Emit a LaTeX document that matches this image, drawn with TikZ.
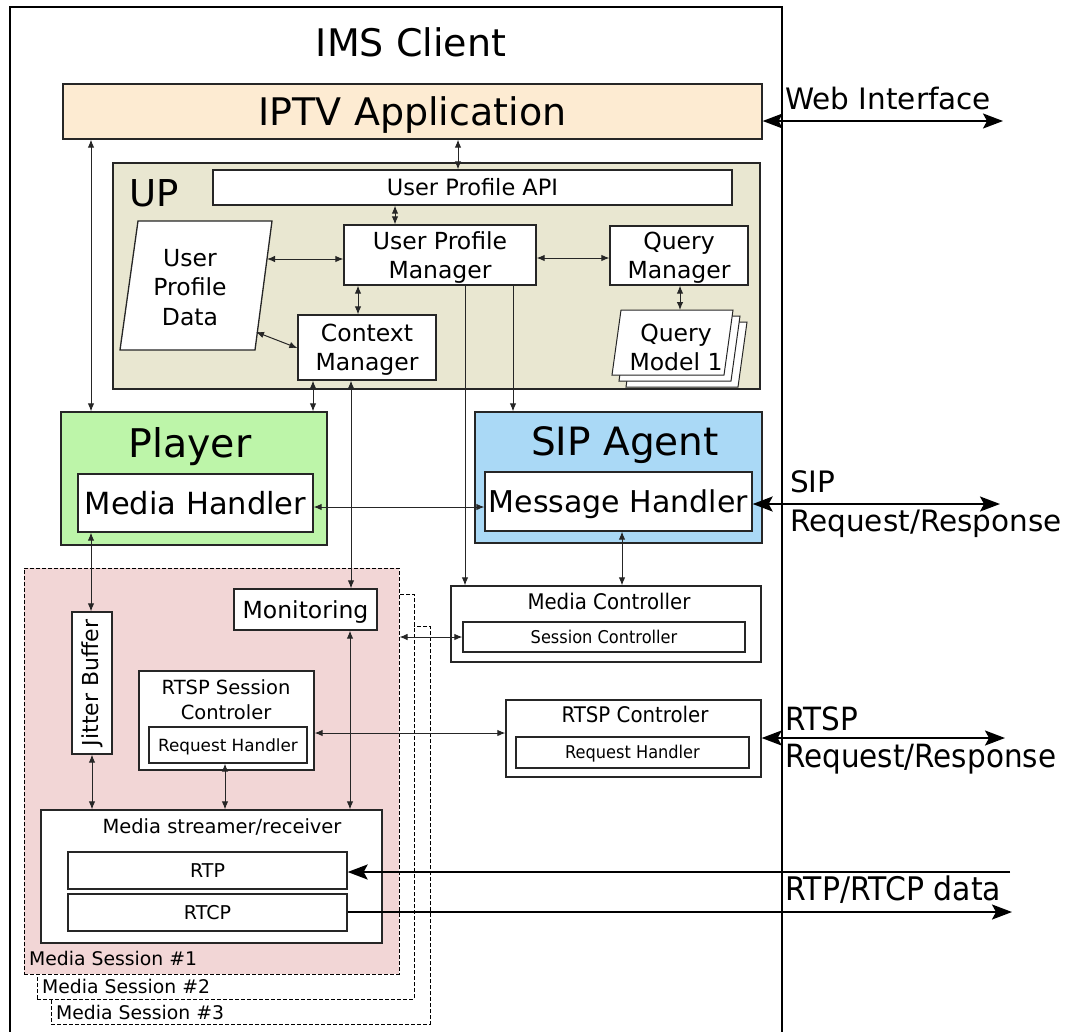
\documentclass[tikz,border=0pt]{standalone}
\usepackage{fontspec}
\setmainfont{DejaVu Sans}
\newfontfamily\condfont[FakeStretch=0.92]{DejaVu Sans}
\usetikzlibrary{arrows.meta}
\newcommand\fsz[2]{\fontsize{#1pt}{#2pt}\selectfont}

\definecolor{appfill}{HTML}{FDEBD2}
\definecolor{upfill}{HTML}{E9E7D1}
\definecolor{playerfill}{HTML}{BDF5A9}
\definecolor{sipfill}{HTML}{AAD9F6}
\definecolor{sessfill}{HTML}{F2D6D6}
\definecolor{edge}{HTML}{262626}
\definecolor{wire}{HTML}{262626}

\begin{document}
\begin{tikzpicture}[x=1pt, y=-1pt,
  box/.style={draw=edge, line width=1.3pt, fill=white, inner sep=0pt, rectangle, align=center},
  sess/.style={draw=black, line width=1pt, dash pattern=on 4pt off 2pt, inner sep=0pt, rectangle},
  sheet/.style={draw=edge, line width=1pt, fill=white},
  lbl/.style={inner sep=0pt},
  ctr/.style={text height=#1, text depth=0pt},
  conn/.style={draw=wire, line width=1pt},
  bi/.style={conn, {Latex[length=8pt,width=6.5pt]}-{Latex[length=8pt,width=6.5pt]}},
  uni/.style={conn, -{Latex[length=8pt,width=6.5pt]}},
  bigbi/.style={draw=black, line width=2pt, {Stealth[length=20pt,width=15pt,inset=4pt]}-{Stealth[length=20pt,width=15pt,inset=4pt]}},
  bigone/.style={draw=black, line width=2pt, -{Stealth[length=20pt,width=15pt,inset=4pt]}},
  small/.style={font=\fsz{23.5}{29}}
]
\useasboundingbox (0,0) rectangle (1075,1031);

% client frame (open at the bottom)
\node[draw=black, line width=1.5pt, inner sep=0pt, minimum width=772, minimum height=1045, anchor=north west] (ims) at (9,6) {};
\node[lbl, anchor=base, font=\fsz{38}{46}] (imslabel) at (411,56) {IMS Client};

% application layer
\node[box, fill=appfill, minimum width=699, minimum height=55, font=\fsz{38}{46}, ctr=27.7pt] (iptv) at (412.5,111.5) {IPTV Application};
\node[lbl, anchor=base west, font=\fsz{29.5}{36}] (weblabel) at (785,109) {Web Interface};

% user profile block
\node[box, fill=upfill, minimum width=647, minimum height=226] (up) at (436.5,276) {};
\node[lbl, anchor=base west, font=\fsz{37}{44}] (uplabel) at (129,206) {UP};
\node[box, minimum width=519, minimum height=35, font=\fsz{22.5}{28}, ctr=16.4pt] (api) at (472.5,187.5) {User Profile API};
\node[box, small, minimum width=192, minimum height=60, ctr=46.1pt] (upm) at (440,255) {User Profile\\Manager};
\node[box, small, minimum width=138, minimum height=59, ctr=46.1pt] (qm) at (679,255.5) {Query\\Manager};
\node[box, small, minimum width=138, minimum height=65, ctr=46.1pt] (cm) at (367,347.5) {Context\\Manager};

% profile data store
\draw[sheet, line width=1.3pt] (120,350) -- (138,221) -- (272,221) -- (255,350) -- cycle;
\node[lbl, align=center, font=\fsz{23.5}{29.5}, ctr=76.1pt] (upd) at (190,287) {User\\Profile\\Data};
\coordinate (updA) at (267,259);
\coordinate (updB) at (256,332);

% stacked query models
\draw[sheet] (626,387) -- (635,322) -- (747,322) -- (738,387) -- cycle;
\draw[sheet] (619,381) -- (628,316) -- (740,316) -- (731,381) -- cycle;
\draw[sheet] (612,375) -- (621,310) -- (733,310) -- (724,375) -- cycle;
\node[lbl, small, align=center, ctr=46.1pt] (qmod) at (676,347) {Query\\Model 1};
\coordinate (qmodtop) at (680,310);

% player and SIP agent
\node[box, fill=playerfill, minimum width=266, minimum height=133] (player) at (194,478.5) {};
\node[lbl, anchor=base, font=\fsz{39.5}{48}] (playerlabel) at (190,457) {Player};
\node[box, minimum width=235, minimum height=58, font=\fsz{30.5}{37}, ctr=22.2pt] (mh) at (195.5,503) {Media Handler};
\node[box, fill=sipfill, minimum width=287, minimum height=131] (sip) at (618.5,477.5) {};
\node[lbl, anchor=base, font=\fsz{39}{48}] (siplabel) at (625,455) {SIP Agent};
\node[box, minimum width=267, minimum height=59, font=\fsz{30}{37}, ctr=21.9pt] (msg) at (618.5,501.5) {Message Handler};
\node[lbl, anchor=base west, font=\fsz{29.5}{36}] (sipA) at (790,492) {SIP};
\node[lbl, anchor=base west, font=\fsz{29.5}{36}] (sipB) at (790,531) {Request/Response};

% media sessions (two more stacked behind the first)
\node[sess, fill=white, minimum width=379, minimum height=398] (ms3) at (240.5,825) {};
\node[sess, fill=white, minimum width=377, minimum height=405] (ms2) at (225.5,796.5) {};
\node[sess, fill=sessfill, minimum width=375, minimum height=406] (ms1) at (211.5,771) {};
\node[lbl, anchor=base west, font=\fsz{18.8}{23}] (ms1label) at (29,965) {Media Session \#1};
\node[lbl, anchor=base west, font=\fsz{18.8}{23}] (ms2label) at (42,993) {Media Session \#2};
\node[lbl, anchor=base west, font=\fsz{18.8}{23}] (ms3label) at (56,1019) {Media Session \#3};

\node[box, minimum width=143, minimum height=41, font=\fsz{23.5}{29}, ctr=17.1pt] (mon) at (305.5,609.5) {Monitoring};
\node[box, minimum width=40, minimum height=142] (jit) at (92,683) {};
\node[lbl, rotate=90, font=\fsz{22}{27}, ctr=16pt] (jitlabel) at (90.5,683) {Jitter Buffer};

\node[box, minimum width=175, minimum height=99] (rsc) at (226.5,720.5) {};
\node[lbl, anchor=base, font=\fsz{19.5}{24}] (rscA) at (226,694) {RTSP Session};
\node[lbl, anchor=base, font=\fsz{19.5}{24}] (rscB) at (226,719) {Controler};
\node[box, minimum width=158, minimum height=36, font=\fsz{16.8}{20}, ctr=12.2pt] (rhl) at (228,745) {Request Handler};

\node[box, minimum width=341, minimum height=133] (msr) at (211.5,876.5) {};
\node[lbl, anchor=base, font=\fsz{19.5}{24}] (msrlabel) at (222,833) {Media streamer/receiver};
\node[box, minimum width=279, minimum height=37, font=\fsz{19}{23}, ctr=13.9pt] (rtp) at (207.5,870.5) {RTP};
\node[box, minimum width=279, minimum height=37, font=\fsz{19}{23}, ctr=13.9pt] (rtcp) at (207.5,912.5) {RTCP};

% controllers
\node[box, minimum width=310, minimum height=76] (mc) at (606,624) {};
\node[lbl, anchor=base, font=\condfont\fsz{21.5}{25}] (mclabel) at (609,609) {Media Controller};
\node[box, minimum width=282, minimum height=30, font=\condfont\fsz{17.6}{20}, ctr=12.8pt] (sc) at (604,637) {Session Controller};

\node[box, minimum width=255, minimum height=77] (rtspc) at (633.5,738.5) {};
\node[lbl, anchor=base, font=\condfont\fsz{21.5}{25}] (rtspclabel) at (635,722) {RTSP Controler};
\node[box, minimum width=233, minimum height=31, font=\condfont\fsz{17.6}{20}, ctr=12.8pt] (rhr) at (632.5,752.5) {Request Handler};
\node[lbl, anchor=base west, font=\condfont\fsz{32}{38}] (rtspA) at (785,730) {RTSP};
\node[lbl, anchor=base west, font=\condfont\fsz{32}{38}] (rtspB) at (785,767) {Request/Response};
\node[lbl, anchor=base west, font=\condfont\fsz{32.5}{38}] (rtplabel) at (785,900) {RTP/RTCP data};

% internal connectors
\draw[bi] (iptv.south -| 91,0) -- (player.north -| 91,0);
\draw[bi] (iptv.south -| 458,0) -- (api.north -| 458,0);
\draw[bi] (api.south -| 395,0) -- (upm.north -| 395,0);
\draw[bi] (updA) -- (upm.west |- 0,259);
\draw[bi] (upm.east |- 0,258) -- (qm.west |- 0,258);
\draw[bi] (qm.south -| 680,0) -- (qmodtop);
\draw[bi] (upm.south -| 358,0) -- (cm.north -| 358,0);
\draw[bi] (updB) -- (cm.west |- 0,348);
\draw[bi] (cm.south -| 313,0) -- (player.north -| 313,0);
\draw[bi] (mon.north -| 351,0) -- (cm.south -| 351,0);
\draw[uni] (upm.south -| 465,0) -- (mc.north -| 465,0);
\draw[uni] (upm.south -| 513,0) -- (sip.north -| 513,0);
\draw[bi] (mh.east |- 0,507) -- (msg.west |- 0,507);
\draw[bi] (mh.south -| 91,0) -- (jit.north -| 91,0);
\draw[bi] (msg.south -| 622,0) -- (mc.north -| 622,0);
\draw[bi] (ms1.east |- 0,637) -- (sc.west |- 0,637);
\draw[bi] (mon.south -| 350,0) -- (msr.north -| 350,0);
\draw[bi] (jit.south -| 92,0) -- (msr.north -| 92,0);
\draw[bi] (rhl.south -| 225,0) -- (msr.north -| 225,0);
\draw[bi] (rsc.east |- 0,733) -- (rtspc.west |- 0,733);

% external interfaces
\coordinate (webR) at (1003,121);
\coordinate (sipR) at (1000,504);
\coordinate (rtspR) at (1005,738);
\coordinate (rtpIn) at (1010,872);
\coordinate (rtcpOut) at (1012,912);
\draw[bigbi] (iptv.east |- 0,121) -- (webR);
\draw[bigbi] (msg.east |- 0,504) -- (sipR);
\draw[bigbi] (rtspc.east |- 0,738) -- (rtspR);
\draw[bigone] (rtpIn) -- (rtp.east |- 0,872);
\draw[bigone] (rtcp.east |- 0,912) -- (rtcpOut);
\end{tikzpicture}
\end{document}
